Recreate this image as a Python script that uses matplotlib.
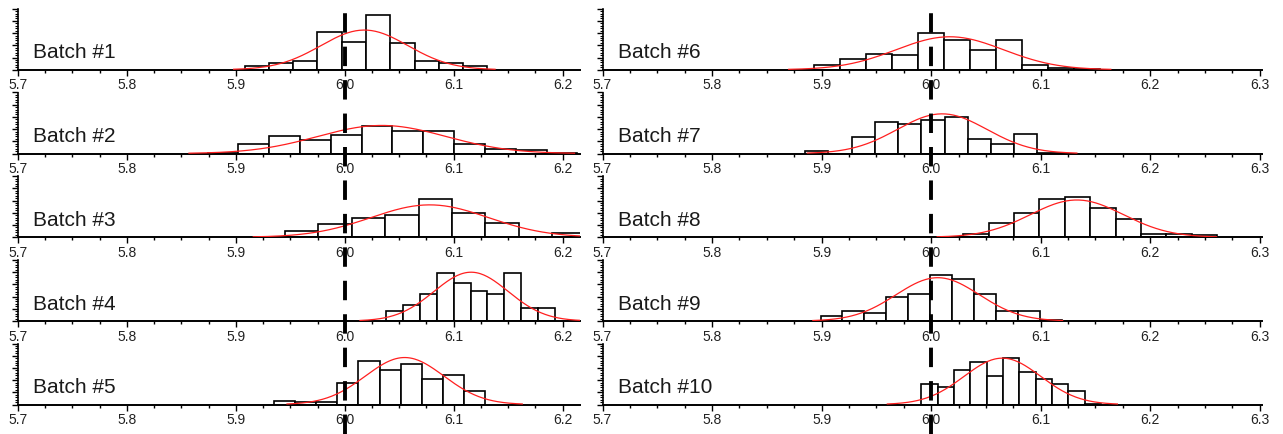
import numpy as np
import matplotlib
matplotlib.use("Agg")
import matplotlib.pyplot as plt
from matplotlib.lines import Line2D
from matplotlib.ticker import MultipleLocator
import matplotlib.transforms as mtransforms

plt.rcParams['font.family'] = ['Liberation Sans', 'DejaVu Sans']

# histogram data (relative bar heights, axis top = 1)
labels = ["Batch #%d" % i for i in range(1, 11)]
bin_start = [5.908, 5.874, 5.945, 6.038, 5.935, 5.893, 5.885, 6.006, 5.899, 5.991]
bin_width = [0.0223, 0.0283, 0.0307, 0.0155, 0.0194, 0.0237, 0.0212, 0.0232, 0.0200, 0.0149]
h1 = [0.066, 0.11, 0.137, 0.61, 0.46, 0.89, 0.43, 0.137, 0.11, 0.066]
h2 = [0.015, 0.16, 0.28, 0.22, 0.31, 0.45, 0.37, 0.37, 0.15, 0.07, 0.06, 0.015]
h3 = [0.10, 0.21, 0.31, 0.36, 0.62, 0.40, 0.24, 0.0, 0.07]
h4 = [0.17, 0.27, 0.44, 0.79, 0.62, 0.50, 0.44, 0.79, 0.22, 0.22]
h5 = [0.05, 0.04, 0.045, 0.36, 0.72, 0.57, 0.67, 0.41, 0.48, 0.22]
h6 = [0.08, 0.17, 0.26, 0.24, 0.60, 0.48, 0.32, 0.48, 0.08, 0.02, 0.01]
h7 = [0.04, 0.0, 0.27, 0.51, 0.48, 0.55, 0.60, 0.23, 0.15, 0.32, 0.01]
h8 = [0.01, 0.06, 0.23, 0.39, 0.62, 0.66, 0.48, 0.30, 0.06, 0.06, 0.04]
h9 = [0.08, 0.17, 0.13, 0.39, 0.44, 0.76, 0.69, 0.44, 0.17, 0.17, 0.01]
h10 = [0.34, 0.29, 0.57, 0.69, 0.46, 0.76, 0.53, 0.41, 0.34, 0.22, 0.01]
heights = [h1, h2, h3, h4, h5, h6, h7, h8, h9, h10]

# normal fit per batch
fit_mean = [6.018, 6.034, 6.078, 6.116, 6.055, 6.017, 6.010, 6.133, 6.006, 6.065]
fit_sd = [0.040, 0.059, 0.054, 0.034, 0.036, 0.049, 0.041, 0.0425, 0.038, 0.035]
fit_peak = [0.65, 0.46, 0.53, 0.80, 0.77, 0.54, 0.65, 0.61, 0.71, 0.76]

target = 6.0
left_ticks = [5.7, 5.8, 5.9, 6.0, 6.1, 6.2]
right_ticks = [5.7, 5.8, 5.9, 6.0, 6.1, 6.2, 6.3]

W, H = 1283, 435
fig = plt.figure(figsize=(W / 100, H / 100), dpi=100)

baselines = [70.7, 154.5, 238.2, 322.0, 405.5]
ax_h = 61
cols = [(18, 580, 6.216, left_ticks), (602.5, 1262, 6.302, right_ticks)]

axes = []
for c, (x0, x1, xmax, ticks) in enumerate(cols):
    for r in range(5):
        i = c * 5 + r
        ax = fig.add_axes([x0 / W, 1 - baselines[r] / H, (x1 - x0) / W, ax_h / H])
        ax.set_facecolor('none')
        hs = heights[i]
        lefts = [bin_start[i] + k * bin_width[i] for k in range(len(hs))]
        ax.bar(lefts, hs, width=bin_width[i], align='edge', color='white',
               edgecolor='black', linewidth=1.2, zorder=2)
        m, s = fit_mean[i], fit_sd[i]
        xs = np.linspace(m - 3 * s, m + 3 * s, 200)
        ax.plot(xs, fit_peak[i] * np.exp(-0.5 * ((xs - m) / s) ** 2),
                color='#ff1f1f', lw=0.9, zorder=3)
        ax.set_xlim(5.7, xmax)
        ax.set_ylim(0, 1)
        ax.set_xticks(ticks)
        ax.set_xticklabels(["%.1f" % t for t in ticks])
        ax.xaxis.set_minor_locator(MultipleLocator(0.025))
        ax.yaxis.set_major_locator(MultipleLocator(0.2))
        ax.yaxis.set_minor_locator(MultipleLocator(0.04))
        ax.set_yticklabels([])
        ax.tick_params(axis='x', which='major', length=4, width=1, pad=1.5,
                       labelsize=10, labelcolor='#222222')
        ax.tick_params(axis='x', which='minor', length=2.5, width=1)
        ax.tick_params(axis='y', which='major', length=4.5, width=1)
        ax.tick_params(axis='y', which='minor', length=2.5, width=0.8)
        for sp in ['top', 'right']:
            ax.spines[sp].set_visible(False)
        ax.spines['bottom'].set_linewidth(1.4)
        ax.spines['left'].set_linewidth(1.2)
        ax.text(0.027 if c == 0 else 0.024, 0.2, labels[i], transform=ax.transAxes,
                fontsize=15, color='#1a1a1a', va='baseline', ha='left')
        axes.append(ax)

# dashed target line through each column
for ax in (axes[0], axes[5]):
    tr = mtransforms.blended_transform_factory(ax.transData, fig.transFigure)
    fig.add_artist(Line2D([target, target], [0, 1], transform=tr, color='black',
                          lw=2.8, linestyle=(0, (5, 3.6)), zorder=10))

fig.savefig("out.png", dpi=100)
